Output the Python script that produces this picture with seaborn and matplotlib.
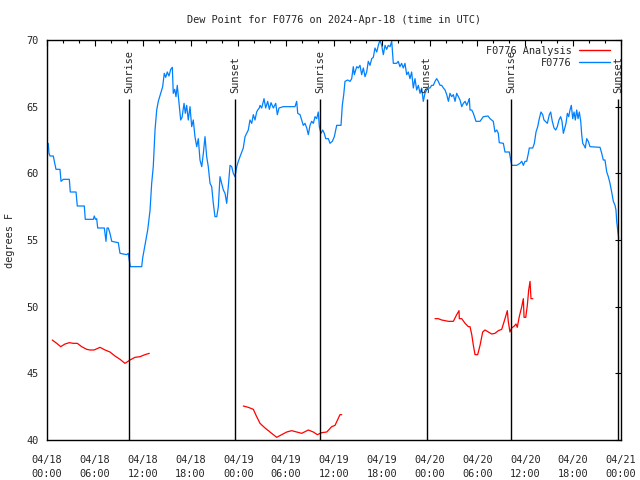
import numpy as np
import pandas as pd
import matplotlib
matplotlib.use("Agg")
import matplotlib.pyplot as plt
from matplotlib.lines import Line2D
import seaborn as sns

# ---------------- data ----------------
title = "Dew Point for F0776 on 2024-Apr-18 (time in UTC)"
ylabel = "degrees F"

# hours since 04/18 00:00 UTC
blue_hours = [0.16, 0.25, 0.38, 0.79, 0.92, 1.13, 1.63, 1.76, 2.04, 2.80, 2.92, 3.64, 3.80, 4.68, 4.80,
              5.81, 5.93, 6.08, 6.23, 6.36, 7.19, 7.40, 7.53, 7.69, 7.90, 8.12, 8.94, 9.16, 10.0, 10.2,
              10.29, 10.45, 11.88, 12.0, 12.29, 12.63, 12.92, 13.13, 13.33, 13.55, 13.76, 13.96, 14.26,
              14.51, 14.71, 14.89, 15.09, 15.30, 15.52, 15.72, 15.84, 16.02, 16.18, 16.34, 16.60, 16.77,
              16.94, 17.19, 17.35, 17.52, 17.72, 17.94, 18.15, 18.35, 18.56, 18.78, 18.98, 19.19, 19.41,
              19.61, 19.82, 20.03, 20.23, 20.45, 20.66, 20.86, 21.07, 21.29, 21.49, 21.70, 21.91, 22.12,
              22.33, 22.54, 22.74, 22.96, 23.17, 23.37, 23.58, 23.80, 24.0, 24.21, 24.62, 24.84, 25.25,
              25.46, 25.68, 25.88, 26.09, 26.30, 26.43, 26.63, 26.72, 26.93, 27.22, 27.43, 27.68, 27.89,
              28.10, 28.39, 28.69, 28.89, 29.10, 29.64, 31.11, 31.32, 31.45, 31.74, 31.95, 32.15, 32.36,
              32.58, 32.78, 32.99, 33.20, 33.41, 33.62, 33.83, 34.03, 34.16, 34.37, 34.58, 34.78, 34.96,
              35.29, 35.50, 35.79, 36.04, 36.34, 36.88, 37.04, 37.22, 37.38, 37.72, 38.01, 38.22, 38.42,
              38.55, 38.85, 39.05, 39.26, 39.47, 39.68, 39.89, 40.10, 40.30, 40.52, 40.73, 40.93, 41.14,
              41.36, 41.56, 41.77, 41.98, 42.19, 42.40, 42.61, 42.81, 43.03, 43.24, 43.44, 43.86, 44.06,
              44.27, 44.48, 44.69, 44.90, 45.12, 45.32, 45.53, 45.74, 45.95, 46.16, 46.37, 46.58, 46.79,
              47.0, 47.20, 47.41, 47.63, 47.83, 48.04, 48.25, 48.46, 48.67, 48.88, 49.08, 49.30, 49.51,
              49.72, 49.93, 50.14, 50.35, 50.55, 50.76, 50.97, 51.18, 51.39, 51.60, 51.81, 52.02, 52.23,
              52.44, 52.65, 52.86, 52.98, 53.06, 53.28, 53.48, 53.81, 54.32, 54.73, 55.32, 55.57, 55.98,
              56.19, 56.41, 56.61, 56.73, 57.24, 57.45, 57.99, 58.17, 58.29, 58.92, 59.33, 59.55, 59.75,
              59.96, 60.17, 60.38, 60.50, 60.93, 61.13, 61.34, 61.55, 61.75, 61.96, 62.18, 62.34, 62.76,
              63.01, 63.18, 63.38, 63.60, 63.81, 64.01, 64.22, 64.43, 64.60, 64.77, 64.94, 65.10, 65.27,
              65.44, 65.60, 65.77, 65.94, 66.11, 66.27, 66.44, 66.61, 66.77, 66.95, 67.07, 67.20, 67.36,
              67.52, 67.70, 67.90, 68.11, 69.37, 69.58, 69.78, 69.99, 70.21, 70.41, 70.62, 70.83, 71.04,
              71.25, 71.37, 71.46, 71.59, 71.71]
blue_vals = [62.25, 61.5, 61.3, 61.3, 60.9, 60.3, 60.3, 59.4, 59.55, 59.55, 58.6, 58.6, 57.55, 57.55, 56.55,
             56.55, 56.8, 56.55, 56.6, 55.9, 55.9, 54.9, 55.9, 55.9, 55.5, 54.9, 54.8, 54.0, 53.9, 54.0,
             53.6, 53.0, 53.0, 53.65, 54.6, 55.75, 57.2, 59.25, 60.5, 63.25, 64.75, 65.4, 66.0,
             66.5, 67.5, 67.2, 67.6, 67.3, 67.8, 67.95, 66.0, 66.3, 65.75, 66.6, 65.0, 64.0,
             64.2, 65.25, 64.5, 65.1, 64.0, 65.0, 63.5, 64.0, 62.75, 62.0, 62.6, 61.0, 60.5,
             61.5, 62.75, 61.25, 60.5, 59.25, 59.0, 57.75, 56.75, 56.75, 57.5, 59.75, 59.25, 58.75,
             58.5, 57.75, 59.0, 60.6, 60.5, 60.0, 59.75, 60.5, 60.9, 61.25, 61.9, 62.75, 63.25,
             64.0, 63.75, 64.4, 64.0, 64.6, 64.75, 64.9, 65.1, 64.9, 65.6, 64.9, 65.4, 64.8,
             65.3, 64.9, 65.25, 64.4, 64.9, 65.0, 65.0, 65.4, 64.5, 64.4, 64.0, 63.6, 63.75,
             63.4, 62.9, 63.6, 63.9, 63.75, 64.25, 64.1, 64.6, 63.5, 63.0, 63.25, 63.0, 62.6,
             62.6, 62.25, 62.4, 62.75, 63.6, 63.6, 65.1, 65.9, 66.9, 67.0, 66.9, 67.1, 68.0,
             67.4, 68.0, 67.9, 68.1, 67.4, 67.9, 67.25, 67.6, 68.4, 68.1, 68.6, 68.7, 69.4,
             69.1, 69.6, 70.0, 69.6, 68.9, 69.6, 69.3, 69.6, 69.5, 69.9, 68.25, 68.25, 68.4,
             68.0, 68.25, 67.9, 68.25, 67.4, 67.6, 67.1, 67.6, 66.4, 67.1, 66.25, 66.6, 66.0,
             66.4, 65.4, 66.0, 66.25, 66.4, 66.4, 66.6, 66.6, 66.9, 67.1, 66.9, 66.6, 66.6,
             66.4, 66.25, 65.9, 65.4, 66.0, 65.75, 65.9, 65.4, 66.0, 65.75, 65.5, 65.0, 65.25,
             65.4, 65.1, 65.4, 65.6, 64.75, 64.75, 64.5, 63.9, 63.9, 64.25, 64.3, 64.1, 63.9,
             63.1, 63.25, 63.0, 62.3, 62.25, 61.6, 61.6, 61.0, 60.6, 60.6, 60.75, 60.9, 60.6,
             60.9, 60.9, 61.5, 61.9, 61.9, 62.25, 63.1, 63.5, 64.1, 64.6, 64.4, 64.0, 63.75,
             64.4, 64.6, 63.9, 63.4, 63.25, 63.5, 64.0, 64.25, 63.9, 63.0, 63.4, 63.75, 64.5,
             64.25, 64.75, 65.1, 64.1, 64.6, 64.0, 64.75, 64.1, 64.6, 63.9, 62.9, 62.25, 62.1,
             61.9, 62.6, 62.4, 62.0, 61.95, 61.5, 61.0, 61.0, 60.1, 59.75, 59.25, 58.6, 57.9,
             57.6, 57.25, 56.4, 55.75, 55.1]

red_hours = [0.66, 1.22, 1.72, 2.26, 2.80, 3.30, 3.80, 4.35, 4.98, 5.39, 5.90, 6.65, 7.28, 7.90, 8.53,
             9.16, 9.78, 10.41, 11.04, 11.67, 12.29, 12.83,
             24.62, 25.25, 25.88, 26.30, 26.72, 27.35, 27.97, 28.81, 29.44, 30.07, 30.69, 31.32, 31.95,
             32.78, 33.40, 33.91, 34.46, 35.09, 35.71, 36.13, 36.75, 36.97,
             48.67, 49.08, 49.51, 50.34, 50.97, 51.39, 51.68, 51.72, 52.02, 52.44, 52.85, 53.06, 53.28,
             53.48, 53.69, 54.02, 54.32, 54.65, 54.94, 55.36, 55.78, 56.19, 56.61, 57.04, 57.45, 57.74,
             57.86, 58.07, 58.29, 58.62, 58.83, 58.99, 59.24, 59.55, 59.75, 59.84, 60.05, 60.25, 60.42,
             60.59, 60.71, 60.93]
red_vals = [47.5, 47.25, 47.0, 47.2, 47.3, 47.25, 47.25, 47.0, 46.8, 46.75, 46.75, 46.95, 46.75, 46.6, 46.3,
            46.05, 45.75, 46.0, 46.2, 46.25, 46.4, 46.5,
            42.55, 42.45, 42.3, 41.75, 41.25, 40.9, 40.6, 40.2, 40.4, 40.6, 40.7, 40.6, 40.5,
            40.75, 40.6, 40.4, 40.55, 40.6, 41.0, 41.1, 41.9, 41.9,
            49.1, 49.1, 49.0, 48.9, 48.9, 49.4, 49.7, 49.1, 49.1, 48.75, 48.5, 48.5, 47.9,
            47.1, 46.4, 46.4, 47.1, 48.1, 48.25, 48.1, 47.95, 48.0, 48.2, 48.3, 49.1, 49.7,
            48.9, 48.1, 48.4, 48.55, 48.7, 48.45, 49.25, 50.0, 50.6, 49.2, 49.2, 50.1, 51.25,
            51.9, 50.6, 50.6]
red_seg = [0] * 22 + [1] * 22 + [2] * 42

event_hours = [10.29, 23.64, 34.29, 47.63, 58.25, 71.67]
event_labels = ["Sunrise", "Sunset", "Sunrise", "Sunset", "Sunrise", "Sunset"]

xtick_hours = [0, 6, 12, 18, 24, 30, 36, 42, 48, 54, 60, 66, 72]
xtick_labels = ["04/18\n00:00", "04/18\n06:00", "04/18\n12:00", "04/18\n18:00",
                "04/19\n00:00", "04/19\n06:00", "04/19\n12:00", "04/19\n18:00",
                "04/20\n00:00", "04/20\n06:00", "04/20\n12:00", "04/20\n18:00",
                "04/21\n00:00"]
ytick_vals = [40, 45, 50, 55, 60, 65, 70]

series_names = ["F0776 Analysis", "F0776"]
series_colors = ["#ff0000", "#0080ff"]

# ---------------- plot ----------------
sns.set_style("white")
plt.rcParams["font.family"] = ["DejaVu Sans Mono", "DejaVu Sans"]
FS = 7.4

fig = plt.figure(figsize=(6.4, 4.8), dpi=100)
ax = fig.add_axes([47 / 640, 40 / 480, 574 / 640, 400 / 480])

df_red = pd.DataFrame({"hours": red_hours, "dewpoint": red_vals, "seg": red_seg})
df_blue = pd.DataFrame({"hours": blue_hours, "dewpoint": blue_vals})

sns.lineplot(data=df_red, x="hours", y="dewpoint", units="seg", estimator=None, sort=False,
             color=series_colors[0], lw=0.9, ax=ax, legend=False)
sns.lineplot(data=df_blue, x="hours", y="dewpoint", estimator=None, sort=False,
             color=series_colors[1], lw=0.9, ax=ax, legend=False)

ax.vlines(event_hours, 40, 65.55, color="black", lw=1.0)
for h, lab in zip(event_hours, event_labels):
    ax.text(h, 66.05, lab, rotation=90, ha="center", va="bottom", fontsize=FS)

ax.set_xlim(0, 72)
ax.set_ylim(40, 70)
ax.set_xticks(xtick_hours)
ax.set_xticklabels(xtick_labels, fontsize=FS, linespacing=1.45)
ax.set_xticks(np.arange(0, 73, 2), minor=True)
ax.set_yticks(ytick_vals)
ax.set_yticklabels([str(v) for v in ytick_vals], fontsize=FS)
ax.tick_params(axis="both", which="both", direction="in", top=True, right=True, color="black")
ax.tick_params(axis="both", which="major", length=4.5, width=0.8)
ax.tick_params(axis="both", which="minor", length=2.5, width=0.8)
ax.tick_params(axis="x", which="major", pad=11)
ax.tick_params(axis="y", which="major", pad=6)
for s in ax.spines.values():
    s.set_color("black")
    s.set_linewidth(1.0)

ax.set_xlabel("")
ax.set_ylabel(ylabel, fontsize=FS, labelpad=8)
ax.set_title(title, fontsize=FS, pad=12)

handles = [Line2D([], [], color=c, lw=1.0) for c in series_colors]
leg = ax.legend(handles, series_names, loc="upper right", bbox_to_anchor=(0.982, 0.988),
                markerfirst=False, frameon=False, fontsize=FS, handlelength=3.0,
                handletextpad=0.7, labelspacing=0.2, borderaxespad=0, borderpad=0.1)

fig.savefig("out.png", dpi=100)
